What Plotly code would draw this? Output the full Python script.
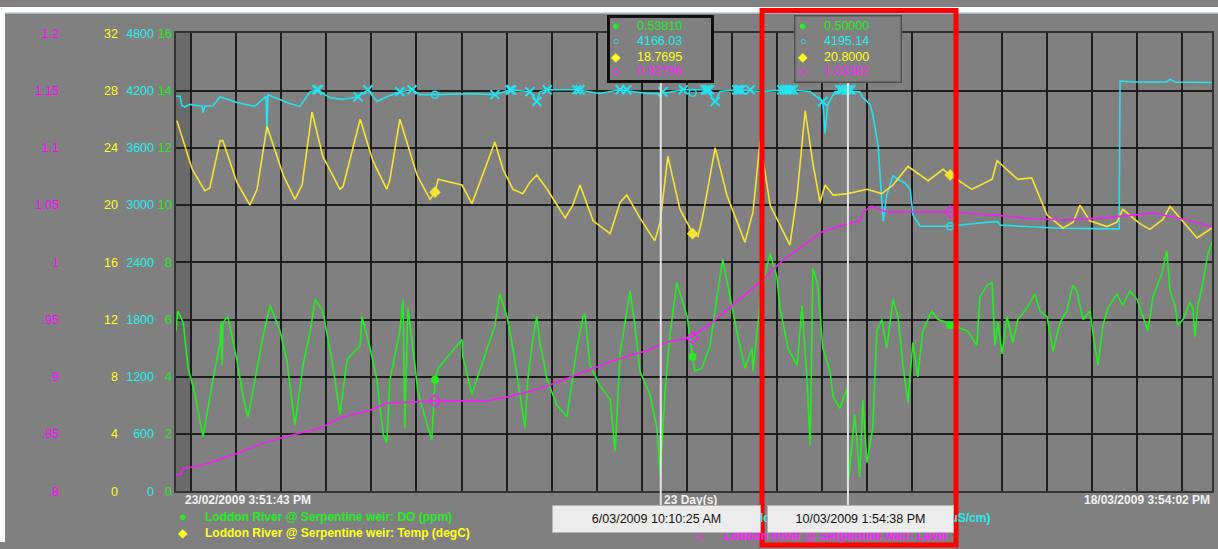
import pandas as pd
import plotly.graph_objects as go

W, H = 1218, 549
START = pd.Timestamp("2009-02-23 15:51:43")
END = pd.Timestamp("2009-03-18 15:54:02")

GREEN = "#22ee22"
CYAN = "#22e2ee"
YELLOW = "#f4e432"
MAGENTA = "#f022f0"
BG = "#808080"
FONT = "Liberation Sans, Arial, sans-serif"

# ---- data (x = days since start) ----
do_days = [0.0, 0.04, 0.16, 0.27, 0.42, 0.53, 0.60, 0.82, 0.98, 1.00, 1.02, 1.04, 1.15, 1.35,
           1.49, 1.60, 1.71, 1.93, 2.09, 2.31, 2.46, 2.64, 2.82, 2.98, 3.09, 3.26, 3.49, 3.64,
           3.80, 4.09, 4.13, 4.31, 4.46, 4.60, 4.68, 4.75, 4.97, 5.04, 5.08, 5.15, 5.26, 5.37,
           5.60, 5.68, 5.75, 5.82, 6.35, 6.37, 6.57, 7.08, 7.19, 7.35, 7.48, 7.59, 7.68, 7.75,
           7.81, 7.93, 8.01, 8.08, 8.24, 8.46, 8.68, 8.81, 8.90, 9.04, 9.08, 9.19, 9.41, 9.64,
           9.75, 9.86, 10.08, 10.19, 10.30, 10.52, 10.68, 10.75, 10.86, 10.97, 11.12, 11.19,
           11.35, 11.46, 11.52, 11.68, 11.86, 12.01, 12.14, 12.30, 12.45, 12.63, 12.79, 12.81,
           12.97, 13.08, 13.19, 13.34, 13.41, 13.59, 13.79, 13.90, 14.01, 14.08, 14.14, 14.25,
           14.36, 14.52, 14.59, 14.74, 14.90, 14.94, 15.07, 15.18, 15.25, 15.34, 15.47, 15.56,
           15.67, 15.78, 15.92, 16.03, 16.14, 16.25, 16.36, 16.47, 16.58, 16.78, 16.92, 17.12,
           17.40, 17.58, 17.78, 17.85, 18.01, 18.12, 18.18, 18.25, 18.34, 18.45, 18.58, 18.69,
           18.89, 19.07, 19.18, 19.34, 19.47, 19.63, 19.78, 19.91, 20.00, 20.14, 20.29, 20.40,
           20.47, 20.58, 20.69, 20.89, 21.02, 21.18, 21.34, 21.47, 21.58, 21.69, 21.89, 22.00,
           22.07, 22.18, 22.24, 22.36, 22.51, 22.58, 22.62, 22.69, 22.80, 22.91, 23.00]
do_ppm = [5.6, 6.3, 5.9, 4.3, 3.4, 2.4, 1.9, 3.9, 5.2, 5.9, 4.4, 5.9, 6.1, 4.6,
          3.3, 2.6, 3.5, 5.4, 6.5, 5.6, 4.6, 2.3, 4.4, 5.6, 6.7, 6.3, 4.3, 2.7,
          4.6, 5.1, 6.1, 5.0, 3.9, 2.0, 1.7, 3.9, 5.6, 6.7, 2.2, 6.4, 5.0, 3.5,
          2.2, 1.8, 3.9, 4.3, 5.3, 4.7, 3.4, 5.8, 6.9, 6.1, 5.0, 3.9, 3.0, 2.2,
          3.9, 5.4, 6.1, 5.2, 3.9, 3.0, 2.6, 4.1, 5.0, 6.1, 6.2, 4.4, 3.7, 3.2,
          1.4, 4.8, 7.0, 5.8, 4.2, 3.4, 2.2, 0.54, 3.5, 5.5, 7.3, 6.9,
          6.1, 4.8, 4.2, 4.3, 5.1, 6.8, 8.1, 6.8, 5.6, 4.3, 5.0, 4.2,
          6.6, 7.6, 8.3, 7.5, 6.4, 5.0, 4.4, 6.5, 3.9, 1.6, 7.8, 7.2,
          5.0, 4.2, 3.3, 2.9, 3.6, 0.5, 2.7, 0.5, 3.2, 1.0, 2.2, 5.6,
          6.0, 5.0, 6.7, 6.1, 4.4, 3.1, 5.2, 4.0, 5.6, 6.3, 6.0, 5.9,
          5.7, 5.6, 5.1, 6.8, 7.2, 7.3, 5.1, 5.9, 4.8, 6.1, 5.2, 6.0,
          6.4, 6.9, 6.3, 6.1, 4.9, 5.9, 6.3, 7.2, 7.0, 6.0, 6.3, 5.1,
          4.4, 5.8, 6.4, 6.9, 6.5, 7.0, 6.7, 6.1, 5.6, 6.8, 7.6, 8.4,
          7.0, 6.5, 5.8, 6.0, 6.6, 6.4, 5.4, 6.5, 7.3, 8.3, 8.7]

ec_days = [0.00, 0.09, 0.13, 0.20, 0.31, 0.58, 0.60, 0.64, 0.82, 0.98, 1.35, 1.75, 2.00, 2.02,
           2.04, 2.46, 2.75, 2.98, 3.13, 3.42, 3.71, 4.04, 4.26, 4.46, 4.68, 4.97, 5.24, 5.42,
           5.71, 6.53, 7.08, 7.42, 7.86, 8.01, 8.08, 8.24, 8.90, 9.41, 9.86, 10.46, 10.75, 11.26,
           11.79, 11.97, 12.08, 12.45, 12.97, 13.57, 14.08, 14.36, 14.41, 14.47, 14.63, 14.92,
           15.18, 15.25, 15.41, 15.47, 15.59, 15.67, 15.70, 15.78, 15.92, 16.03, 16.19, 16.30,
           16.36, 16.52, 17.12, 18.23, 18.30, 19.63, 20.85, 20.94, 20.96, 21.25, 22.00, 22.07,
           22.18, 23.00]
ec_us = [4140, 4140, 4040, 4030, 4055, 4035, 3970, 4035, 4040, 4136, 4075, 4034, 4140, 3750,
         4157, 4075, 4034, 4187, 4208, 4126, 4106, 4136, 4208, 4085, 4136, 4187, 4208, 4157,
         4157, 4167, 4157, 4208, 4187, 4085, 4187, 4208, 4208, 4170, 4208, 4170, 4166, 4208,
         4208, 4085, 4190, 4208, 4190, 4208, 4190, 4085, 3750, 4055, 4187, 4195,
         4187, 4126, 4055, 3952, 3615, 3104, 2830, 3104, 3309, 3268, 3230, 3166,
         2900, 2778, 2778, 2829, 2790, 2757, 2747, 2750, 4300, 4290, 4290, 4320,
         4290, 4285]

temp_days = [0.02, 0.20, 0.36, 0.64, 0.75, 0.98, 1.04, 1.35, 1.64, 1.80, 2.02, 2.38, 2.64, 2.80,
             3.02, 3.26, 3.64, 3.71, 4.09, 4.37, 4.68, 4.75, 4.97, 5.35, 5.64, 5.75, 5.82, 6.35,
             6.57, 7.08, 7.26, 7.48, 7.70, 7.86, 8.01, 8.24, 8.64, 8.81, 8.97, 9.26, 9.64, 9.86,
             10.01, 10.30, 10.63, 10.75, 10.92, 11.19, 11.48, 11.59, 11.70, 11.97, 12.23, 12.63,
             12.81, 12.97, 13.19, 13.63, 13.79, 13.97, 14.14, 14.30, 14.41, 14.59, 14.92, 15.34,
             15.67, 15.92, 16.25, 16.70, 17.03, 17.19, 17.67, 18.12, 18.23, 18.69, 19.00, 19.34,
             19.69, 19.92, 20.07, 20.29, 20.67, 20.89, 21.02, 21.40, 21.62, 21.91, 22.07, 22.29,
             22.67, 23.00]
temp_c = [25.9, 24.1, 22.5, 21.0, 21.2, 24.5, 24.5, 21.6, 20.0, 21.1, 25.5, 22.1, 20.4, 21.4,
          26.5, 23.4, 21.1, 21.3, 26.0, 23.1, 21.1, 21.8, 26.0, 22.1, 20.4, 20.9, 21.8, 21.4,
          20.1, 24.4, 22.5, 21.1, 20.8, 21.6, 22.1, 21.1, 19.1, 20.0, 21.4, 18.9, 18.0, 20.2,
          20.7, 19.1, 17.5, 18.8, 23.4, 19.7, 18.0, 17.8, 19.3, 24.0, 20.7, 17.4,
          19.5, 24.5, 20.0, 17.2, 20.7, 26.6, 22.9, 20.2, 21.4, 20.7, 20.8, 21.1,
          20.8, 21.4, 22.7, 21.7, 22.5, 22.1, 21.1, 21.8, 23.1, 21.8, 21.9, 19.3,
          18.4, 18.8, 20.0, 18.9, 18.5, 18.8, 19.7, 18.7, 18.3, 19.0, 19.9, 19.1,
          17.7, 18.4]

level_days = [0.00, 0.11, 0.16, 0.60, 1.35, 1.93, 2.38, 2.75, 3.20, 3.64, 4.31, 4.68, 5.26, 5.71,
              6.90, 7.42, 8.01, 8.37, 9.17, 9.70, 10.46, 10.75, 10.97, 11.41, 11.92, 12.37,
              12.97, 13.48, 14.01, 14.36, 14.92, 15.18, 15.25, 15.45, 15.78, 17.19, 18.27,
              19.03, 19.78, 20.67, 21.69, 22.45, 23.00]
level_m = [0.8145, 0.815, 0.820, 0.823, 0.833, 0.842, 0.847, 0.851, 0.855, 0.864, 0.871, 0.877,
           0.878, 0.879, 0.879, 0.883, 0.889, 0.894, 0.906, 0.914, 0.923, 0.928, 0.931, 0.934,
           0.948, 0.963, 0.983, 1.002, 1.017, 1.027, 1.0338, 1.036, 1.044, 1.049, 1.044,
           1.044, 1.041, 1.038, 1.037, 1.039, 1.043, 1.037, 1.031]

# periodic point markers on each series
mark_days = [5.75, 11.47, 17.19]
mark_do = [3.9, 4.7, 5.8]
mark_ec = [4157, 4177, 2778]
mark_temp = [20.9, 18.0, 22.1]
mark_level = [0.879, 0.934, 1.044]

# flagged EC samples
flag_days = [3.13, 3.16, 4.04, 4.26, 4.97, 5.24, 7.08, 7.42, 7.45, 7.86, 8.01, 8.24, 8.90, 8.97,
             9.86, 10.01, 10.81, 11.26, 11.75, 11.80, 11.84, 11.97, 12.45, 12.50, 12.54, 12.75,
             13.45, 13.52, 13.57, 13.64, 13.70, 14.36, 14.74, 14.80, 14.87, 14.93, 14.98]
flag_ec = [4208, 4208, 4136, 4208, 4187, 4208, 4157, 4208, 4208, 4187, 4085, 4208, 4208, 4208,
           4208, 4208, 4187, 4208, 4208, 4208, 4208, 4085, 4208, 4208, 4208, 4208,
           4208, 4208, 4208, 4208, 4208, 4085, 4208, 4208, 4208, 4208, 4208]

cursor_times = ["2009-03-06 10:10:25", "2009-03-10 13:54:38"]
cursor_labels = ["6/03/2009 10:10:25 AM", "10/03/2009 1:54:38 PM"]
cursor_values = [["0.53810", "4166.03", "18.7695", "0.92796"],
                 ["0.50000", "4195.14", "20.8000", "1.03382"]]

do_ticks = list(range(0, 17, 2))
ec_ticks = list(range(0, 4801, 600))
temp_ticks = list(range(0, 33, 4))
level_ticks = [0.8, 0.85, 0.9, 0.95, 1.0, 1.05, 1.1, 1.15, 1.2]
level_ticktext = [".8", ".85", ".9", ".95", "1", "1.05", "1.1", "1.15", "1.2"]

series_names = ["Loddon River @ Serpentine weir: DO (ppm)",
                "Loddon River @ Serpentine weir: Temp (degC)",
                "Loddon River @ Serpentine weir: EC (uS/cm)",
                "Loddon River @ Serpentine weir: Level"]


def to_time(days):
    return START + pd.to_timedelta(pd.Series(days), unit="D")


def px(x):
    return x / W


def py(y):
    return 1 - y / H


fig = go.Figure()

line_specs = [
    (do_days, do_ppm, GREEN, "y"),
    (ec_days, ec_us, CYAN, "y2"),
    (temp_days, temp_c, YELLOW, "y3"),
    (level_days, level_m, MAGENTA, "y4"),
]
for days, vals, color, yax in line_specs:
    fig.add_trace(go.Scatter(x=to_time(days), y=vals, mode="lines", yaxis=yax,
                             line=dict(color=color, width=1.6), hoverinfo="skip"))

fig.add_trace(go.Scatter(x=to_time(flag_days), y=flag_ec, mode="markers", yaxis="y2",
                         marker=dict(symbol="x-thin", size=9, color=CYAN,
                                     line=dict(color=CYAN, width=2)), hoverinfo="skip"))

mark_specs = [
    (mark_do, "y", dict(symbol="circle", size=8, color=GREEN)),
    (mark_ec, "y2", dict(symbol="circle-open", size=7, color=CYAN, line=dict(width=1.5))),
    (mark_temp, "y3", dict(symbol="diamond", size=9, color=YELLOW)),
    (mark_level, "y4", dict(symbol="diamond-open", size=9, color=MAGENTA, line=dict(width=1.5))),
]
for vals, yax, mk in mark_specs:
    fig.add_trace(go.Scatter(x=to_time(mark_days), y=vals, mode="markers", yaxis=yax,
                             marker=mk, hoverinfo="skip"))

dom_x = [px(176), px(1212)]
dom_y = [py(497), py(27)]

axis_common = dict(showgrid=False, zeroline=False, ticks="", showline=False)

fig.update_layout(
    width=W, height=H,
    margin=dict(l=0, r=0, t=0, b=0),
    paper_bgcolor=BG, plot_bgcolor=BG,
    showlegend=False,
    xaxis=dict(domain=dom_x, type="date", range=[START, END], showticklabels=False,
               tick0="2009-02-24", dtick=86400000, showgrid=True, gridcolor="#1e1e1e",
               gridwidth=1.5, zeroline=False, showline=True, linecolor="#333333",
               linewidth=1.5, mirror=True),
    yaxis=dict(axis_common, domain=dom_y, range=[0, 16], tickvals=do_ticks,
               showgrid=True, gridcolor="#1e1e1e", gridwidth=1.5,
               tickfont=dict(family=FONT, size=12.5, color=GREEN),
               showline=True, linecolor="#333333", linewidth=1.5, mirror=True),
    yaxis2=dict(axis_common, overlaying="y", anchor="free", position=px(154), side="left",
                range=[0, 4800], tickvals=ec_ticks,
                tickfont=dict(family=FONT, size=12.5, color="#22eeee")),
    yaxis3=dict(axis_common, overlaying="y", anchor="free", position=px(118), side="left",
                range=[0, 32], tickvals=temp_ticks,
                tickfont=dict(family=FONT, size=12.5, color="#ffff22")),
    yaxis4=dict(axis_common, overlaying="y", anchor="free", position=px(59), side="left",
                range=[0.8, 1.2], tickvals=level_ticks, ticktext=level_ticktext,
                tickfont=dict(family=FONT, size=12.5, color="#ff00ff")),
)

shapes = [
    # darker strip before the first midnight
    dict(type="rect", xref="x", yref="y domain", x0=START, x1="2009-02-24", y0=0, y1=1,
         fillcolor="#6a6a6a", line=dict(width=0), layer="below"),
    # white edge of the screenshot, top and left
    dict(type="rect", xref="paper", yref="paper", x0=0, x1=1, y0=py(6), y1=1,
         fillcolor="white", line=dict(width=0)),
    dict(type="rect", xref="paper", yref="paper", x0=0, x1=px(5), y0=0, y1=1,
         fillcolor="white", line=dict(width=0)),
    dict(type="line", xref="paper", yref="paper", x0=px(5), x1=1, y0=py(6.5), y1=py(6.5),
         line=dict(color="#a9bfdc", width=1)),
]
for t in cursor_times:
    shapes.append(dict(type="line", xref="x", yref="paper", x0=t, x1=t, y0=py(512), y1=py(76),
                       line=dict(color="#e4e4e4", width=2)))
# red highlight frame
shapes.append(dict(type="rect", xref="paper", yref="paper", x0=px(762), x1=px(956),
                   y0=py(552), y1=py(3.5), line=dict(color="#ff0000", width=5)))

annotations = []


def label(x, y, text, color, anchor="left", size=12.5):
    annotations.append(dict(xref="paper", yref="paper", x=px(x), y=py(y), text=text,
                            showarrow=False, xanchor=anchor, yanchor="middle",
                            font=dict(family=FONT, size=size, color=color)))


# tooltip boxes
box_specs = [(608, 713, "#111111", 3), (795, 901, "#505050", 1.5)]
row_colors = [GREEN, "#22eeee", "#ffff22", "#ff22ff"]
row_glyphs = ["●", "○", "◆", "◇"]
row_sizes = [13, 11, 12, 12]
row_y = [19, 35, 51, 66]
for (x0, x1, bc, bw), vals in zip(box_specs, cursor_values):
    annotations.append(dict(xref="paper", yref="paper", x=px((x0 + x1) / 2), y=py(43),
                            text=" ", showarrow=False, width=x1 - x0 - 2 * bw,
                            height=66 - 2 * bw, bgcolor=BG, bordercolor=bc, borderwidth=bw,
                            xanchor="center", yanchor="middle"))
    for g, v, c, s, yy in zip(row_glyphs, vals, row_colors, row_sizes, row_y):
        label(x0 + 8, yy, g, c, anchor="center", size=s)
        label(x0 + 27, yy, v, c)

# bottom texts
label(183, 506, "<b>23/02/2009 3:51:43 PM</b>", "#f2f2f2", size=12)
label(1212, 506, "<b>18/03/2009 3:54:02 PM</b>", "#f2f2f2", anchor="right", size=12)
label(662, 506, "<b>23 Day(s)</b>", "#f2f2f2", size=12)

# legend
label(183, 523, "●", GREEN, anchor="center", size=13)
label(203, 523, "<b>" + series_names[0] + "</b>", GREEN, size=12)
label(183, 540, "◆", "#ffff22", anchor="center", size=12)
label(203, 540, "<b>" + series_names[1] + "</b>", "#ffff22", size=12)
label(700, 523, "○", "#22eeee", anchor="center", size=12)
label(992, 524, "<b>" + series_names[2] + "</b>", "#22eeee", anchor="right", size=12)
label(700, 543, "◇", "#ff22ff", anchor="center", size=12)
label(722, 543, "<b>" + series_names[3] + "</b>", "#ff22ff", size=12)

# cursor date boxes
date_boxes = [(553, 760), (768, 953)]
for (x0, x1), txt in zip(date_boxes, cursor_labels):
    annotations.append(dict(xref="paper", yref="paper", x=px((x0 + x1) / 2), y=py(525),
                            text=txt, showarrow=False, width=x1 - x0 - 2, height=24,
                            bgcolor="#ececec", bordercolor="#b5b5b5", borderwidth=1,
                            xanchor="center", yanchor="middle",
                            font=dict(family=FONT, size=12.5, color="#111111")))

fig.update_layout(shapes=shapes, annotations=annotations)

# let the figure fill the window exactly (no default body margin)
fig.write_html("out.html", config={"displayModeBar": False},
               post_script="document.body.style.margin='0';"
                           "document.body.style.overflow='hidden';")
